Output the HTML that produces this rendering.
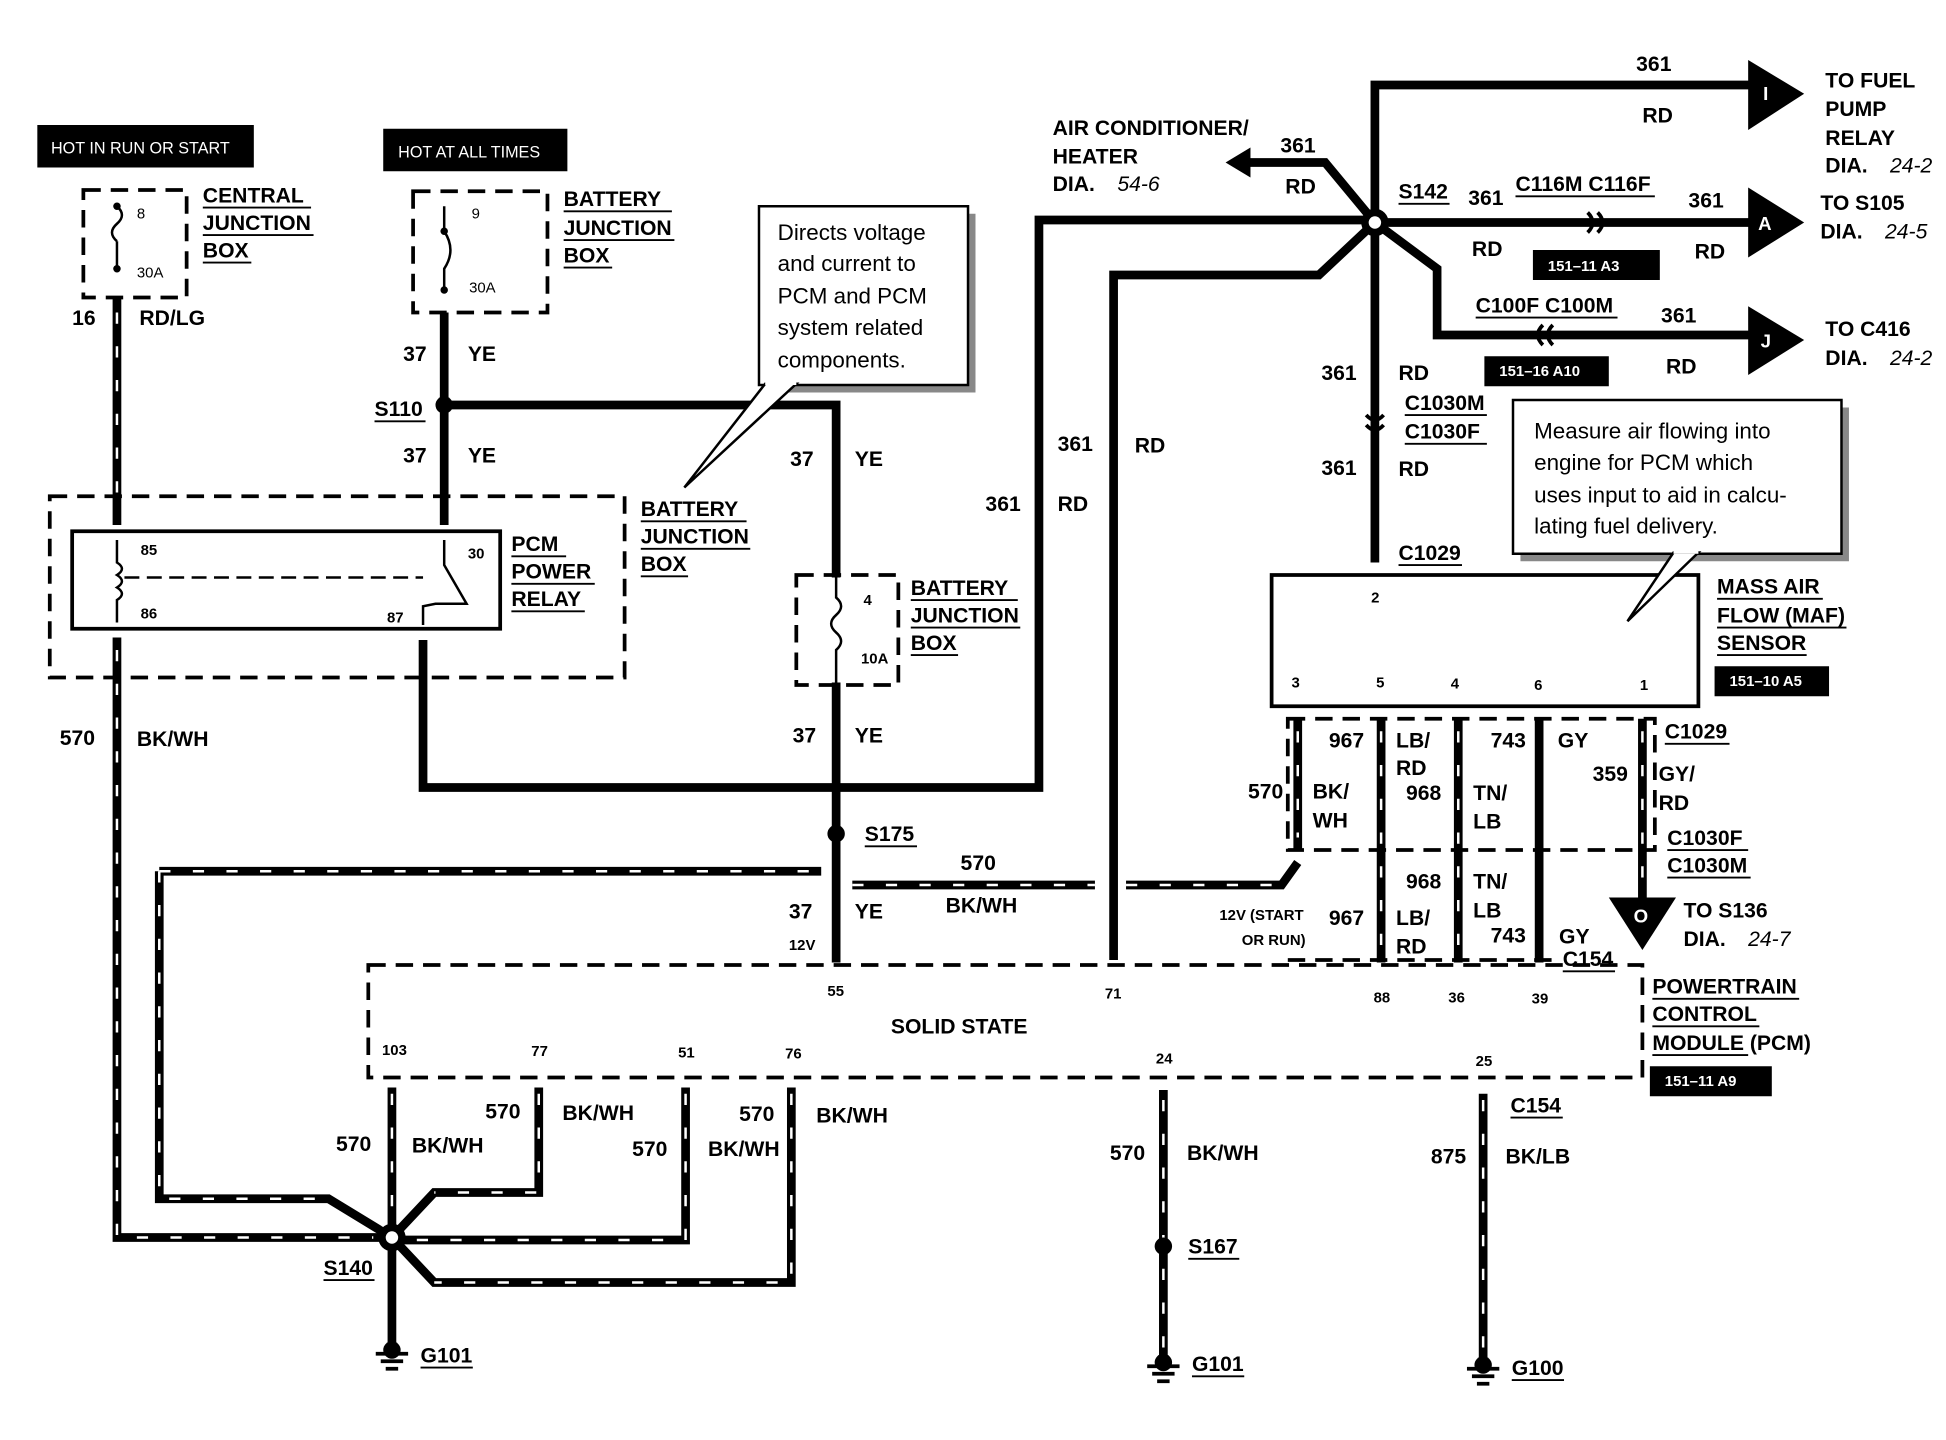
<!DOCTYPE html>
<html><head><meta charset="utf-8"><style>
html,body{margin:0;padding:0;background:#fff}
svg{display:block}
text{font-family:"Liberation Sans",sans-serif;font-weight:bold;fill:#000}
</style></head><body>
<svg width="1946" height="1440" viewBox="0 0 1564 1152" preserveAspectRatio="none" xmlns="http://www.w3.org/2000/svg">
<rect width="1564" height="1152" fill="#fff"/>
<g fill="none" stroke="#000" stroke-linejoin="miter">
<g stroke-width="7">
<polyline points="357,250 357,420"/>
<polyline points="357,324 672,324 672,462"/>
<line x1="672" y1="546" x2="672" y2="770"/>
<polyline points="340,512 340,630 835,630 835,176 1105,176"/>
<polyline points="895,768 895,220 1060,220 1105,178"/>
<polyline points="1105,178 1105,68 1410,68"/>
<polyline points="1105,178 1065,130 1000,130"/>
<polyline points="1105,178 1410,178"/>
<polyline points="1105,178 1155,215 1155,268 1410,268"/>
<polyline points="1105,178 1105,450"/>
<line x1="1172" y1="575" x2="1172" y2="770"/>
<line x1="1237" y1="575" x2="1237" y2="770"/>
<line x1="1110" y1="575" x2="1110" y2="770"/>
<line x1="315" y1="990" x2="315" y2="1075"/>
<line x1="935" y1="872" x2="935" y2="1085"/>
<line x1="1192" y1="875" x2="1192" y2="1088"/>
<line x1="1320" y1="575" x2="1320" y2="720"/>
<line x1="1043" y1="575" x2="1043" y2="680"/>
<polyline points="94,510 94,990 315,990"/>
<polyline points="128,697 128,959 264,959 315,990"/>
<polyline points="128,697 660,697"/>
<polyline points="685,708 880,708"/>
<polyline points="905,708 1030,708 1043,690"/>
<polyline points="315,870 315,990"/>
<polyline points="433,870 433,954 349,954 315,990"/>
<polyline points="551,870 551,992 320,992"/>
<polyline points="636,870 636,1026 349,1026 315,990"/>
<line x1="94" y1="238" x2="94" y2="420"/>
</g>
<g stroke="#fff" stroke-width="2" stroke-dasharray="9 18">
<line x1="94" y1="250" x2="94" y2="410"/>
<polyline points="94,520 94,990 300,990"/>
<polyline points="128,697 128,959 264,959"/>
<polyline points="128,697 660,697"/>
<polyline points="685,708 880,708"/>
<polyline points="905,708 1030,708"/>
<line x1="315" y1="875" x2="315" y2="975"/>
<polyline points="433,875 433,954 349,954"/>
<polyline points="551,875 551,992 335,992"/>
<polyline points="636,875 636,1026 349,1026"/>
<line x1="935" y1="880" x2="935" y2="1080"/>
<line x1="1192" y1="880" x2="1192" y2="1080"/>
<line x1="1043" y1="585" x2="1043" y2="670"/>
<line x1="1110" y1="585" x2="1110" y2="765"/>
<line x1="1172" y1="585" x2="1172" y2="765"/>
<line x1="1320" y1="585" x2="1320" y2="715"/>
</g>
<g stroke-width="3" stroke-dasharray="14 8">
<rect x="67" y="152" width="83" height="86"/>
<rect x="332" y="153" width="108" height="97"/>
<rect x="40" y="397" width="462" height="145"/>
<rect x="640" y="460" width="82" height="88"/>
<rect x="296" y="772" width="1024" height="90"/>
<rect x="1035" y="575" width="295" height="105"/>
<line x1="1035" y1="768" x2="1250" y2="768"/>
</g>
<rect x="58" y="425" width="344" height="78" stroke-width="3"/>
<rect x="1022" y="460" width="343" height="105" stroke-width="3"/>
<path d="M94,165 q8,7 0,14 q-8,7 0,14 M94,193 L94,215" stroke-width="2"/>
<path d="M357,165 L357,185 q10,15 0,30 L357,232" stroke-width="2"/>
<path d="M672,462 L672,478 q8,7 0,14 q-8,7 0,14 q8,7 0,14 L672,546" stroke-width="2"/>
<path d="M94,432 L94,450 q8,5 0,10 q8,5 0,10 q8,5 0,10 L94,498" stroke-width="2"/>
<line x1="100" y1="462" x2="340" y2="462" stroke-width="2" stroke-dasharray="12 6"/>
<path d="M357,432 L357,452 L375,483 L350,483 L340,485 L340,500" stroke-width="2"/>
<rect x="616" y="171" width="168" height="143" fill="#888" stroke="none"/>
<rect x="610" y="165" width="168" height="143" fill="#fff" stroke-width="2"/>
<rect x="1222" y="326" width="264" height="123" fill="#888" stroke="none"/>
<rect x="1216" y="320" width="264" height="123" fill="#fff" stroke-width="2"/>
</g>
<g fill="#000">
<polygon points="550,390 615,307 640,307" fill="#fff" stroke="#000" stroke-width="2"/>
<line x1="615" y1="306" x2="640" y2="306" stroke="#fff" stroke-width="4"/>
<polygon points="1308,497 1345,442 1365,442" fill="#fff" stroke="#000" stroke-width="2"/>
<line x1="1345" y1="441" x2="1365" y2="441" stroke="#fff" stroke-width="4"/>
<rect x="30" y="100" width="174" height="34"/>
<rect x="308" y="103" width="148" height="34"/>
<rect x="1232" y="200" width="102" height="24"/>
<rect x="1193" y="285" width="100" height="24"/>
<rect x="1378" y="533" width="92" height="24"/>
<rect x="1326" y="853" width="98" height="24"/>
<polygon points="1405,48 1450,75 1405,104"/>
<polygon points="1405,150 1450,178 1405,206"/>
<polygon points="1405,245 1450,272 1405,300"/>
<polygon points="985,130 1005,118 1005,142"/>
<polygon points="1293,718 1347,718 1320,760"/>
<circle cx="357" cy="324" r="7"/>
<circle cx="672" cy="667" r="7"/>
<circle cx="935" cy="997" r="7"/>
<circle cx="1105" cy="178" r="11"/><circle cx="1105" cy="178" r="5" fill="#fff"/>
<circle cx="315" cy="990" r="11"/><circle cx="315" cy="990" r="5" fill="#fff"/>
<circle cx="94" cy="215" r="3"/><circle cx="94" cy="165" r="3"/>
<circle cx="357" cy="232" r="3"/><circle cx="357" cy="185" r="3"/>
</g>
<g fill="none" stroke="#000" stroke-width="3">
<path d="M1276,170 q8,8 0,16 M1284,170 q8,8 0,16"/>
<path d="M1240,260 q-8,8 0,16 M1248,260 q-8,8 0,16"/>
<path d="M1098,332 q7,8 14,0 M1098,340 q7,8 14,0"/>
</g>
<g stroke="#000" stroke-width="3">
<line x1="302" y1="1083" x2="328" y2="1083"/><line x1="306" y1="1089" x2="324" y2="1089"/><line x1="310" y1="1095" x2="320" y2="1095"/>
<line x1="922" y1="1093" x2="948" y2="1093"/><line x1="926" y1="1099" x2="944" y2="1099"/><line x1="930" y1="1105" x2="940" y2="1105"/>
<line x1="1179" y1="1095" x2="1205" y2="1095"/><line x1="1183" y1="1101" x2="1201" y2="1101"/><line x1="1187" y1="1107" x2="1197" y2="1107"/>
</g>
<circle cx="315" cy="1080" r="7"/><circle cx="935" cy="1090" r="7"/><circle cx="1192" cy="1092" r="7"/>
<g font-size="13" style="font-weight:normal">
<text x="41" y="123" style="fill:#fff;font-weight:normal">HOT IN RUN OR START</text>
<text x="320" y="126" style="fill:#fff;font-weight:normal">HOT AT ALL TIMES</text>
</g>
<g font-size="17">
<text x="163" y="162">CENTRAL</text><text x="163" y="184">JUNCTION</text><text x="163" y="206">BOX</text>
<text x="453" y="165">BATTERY</text><text x="453" y="188">JUNCTION</text><text x="453" y="210">BOX</text>
<text x="58" y="260">16</text><text x="112" y="260">RD/LG</text>
<text x="324" y="289">37</text><text x="376" y="289">YE</text>
<text x="301" y="333">S110</text>
<text x="324" y="370">37</text><text x="376" y="370">YE</text>
<text x="635" y="373">37</text><text x="687" y="373">YE</text>
<text x="515" y="413">BATTERY</text><text x="515" y="435">JUNCTION</text><text x="515" y="457">BOX</text>
<text x="411" y="441">PCM</text><text x="411" y="463">POWER</text><text x="411" y="485">RELAY</text>
<text x="732" y="476">BATTERY</text><text x="732" y="498">JUNCTION</text><text x="732" y="520">BOX</text>
<text x="48" y="596">570</text><text x="110" y="597">BK/WH</text>
<text x="637" y="594">37</text><text x="687" y="594">YE</text>
<text x="695" y="673">S175</text>
<text x="772" y="696">570</text><text x="760" y="730">BK/WH</text>
<text x="634" y="735">37</text><text x="687" y="735">YE</text>
<text x="716" y="827">SOLID STATE</text>
<text x="846" y="108">AIR CONDITIONER/</text><text x="846" y="131">HEATER</text><text x="846" y="153">DIA.</text><text x="898" y="153" style="font-style:italic;font-weight:normal">54-6</text>
<text x="1029" y="122">361</text><text x="1033" y="155">RD</text>
<text x="1315" y="57">361</text><text x="1320" y="98">RD</text>
<text x="1467" y="70">TO FUEL</text><text x="1467" y="93">PUMP</text><text x="1467" y="116">RELAY</text><text x="1467" y="138">DIA.</text><text x="1519" y="138" style="font-style:italic;font-weight:normal">24-2</text>
<text x="1124" y="159">S142</text><text x="1180" y="164">361</text><text x="1218" y="153">C116M C116F</text><text x="1357" y="166">361</text>
<text x="1183" y="205">RD</text><text x="1362" y="207">RD</text>
<text x="1463" y="168">TO S105</text><text x="1463" y="191">DIA.</text><text x="1515" y="191" style="font-style:italic;font-weight:normal">24-5</text>
<text x="1186" y="250">C100F C100M</text><text x="1335" y="258">361</text><text x="1339" y="299">RD</text>
<text x="1467" y="269">TO C416</text><text x="1467" y="292">DIA.</text><text x="1519" y="292" style="font-style:italic;font-weight:normal">24-2</text>
<text x="1062" y="304">361</text><text x="1124" y="304">RD</text>
<text x="1129" y="328">C1030M</text><text x="1129" y="351">C1030F</text>
<text x="1062" y="380">361</text><text x="1124" y="381">RD</text>
<text x="850" y="361">361</text><text x="912" y="362">RD</text>
<text x="792" y="409">361</text><text x="850" y="409">RD</text>
<text x="1124" y="448">C1029</text>
<text x="1380" y="475">MASS AIR</text><text x="1380" y="498">FLOW (MAF)</text><text x="1380" y="520">SENSOR</text>
<text x="1338" y="591">C1029</text>
<text x="1068" y="598">967</text><text x="1122" y="598">LB/</text><text x="1122" y="620">RD</text><text x="1130" y="640">968</text>
<text x="1198" y="598">743</text><text x="1252" y="598">GY</text><text x="1280" y="625">359</text>
<text x="1333" y="625">GY/</text><text x="1333" y="648">RD</text>
<text x="1003" y="639">570</text><text x="1055" y="639">BK/</text><text x="1055" y="662">WH</text>
<text x="1184" y="640">TN/</text><text x="1184" y="663">LB</text>
<text x="1340" y="676">C1030F</text><text x="1340" y="698">C1030M</text>
<text x="1130" y="711">968</text><text x="1184" y="711">TN/</text><text x="1184" y="734">LB</text>
<text x="1068" y="740">967</text><text x="1122" y="740">LB/</text><text x="1122" y="763">RD</text>
<text x="1198" y="754">743</text><text x="1253" y="755">GY</text><text x="1256" y="773">C154</text>
<text x="1353" y="734">TO S136</text><text x="1353" y="757">DIA.</text><text x="1405" y="757" style="font-style:italic;font-weight:normal">24-7</text>
<text x="1328" y="795">POWERTRAIN</text><text x="1328" y="817">CONTROL</text><text x="1328" y="840">MODULE (PCM)</text>
<text x="390" y="895">570</text><text x="452" y="896">BK/WH</text>
<text x="594" y="897">570</text><text x="656" y="898">BK/WH</text>
<text x="270" y="921">570</text><text x="331" y="922">BK/WH</text>
<text x="508" y="925">570</text><text x="569" y="925">BK/WH</text>
<text x="892" y="928">570</text><text x="954" y="928">BK/WH</text>
<text x="1150" y="931">875</text><text x="1210" y="931">BK/LB</text>
<text x="1214" y="890">C154</text>
<text x="955" y="1003">S167</text>
<text x="260" y="1020">S140</text>
<text x="338" y="1090">G101</text><text x="958" y="1097">G101</text><text x="1215" y="1100">G100</text>
</g>
<g font-size="12" style="font-weight:normal">
<text x="110" y="175" style="font-weight:normal">8</text><text x="110" y="222" style="font-weight:normal">30A</text>
<text x="379" y="175" style="font-weight:normal">9</text><text x="377" y="234" style="font-weight:normal">30A</text>
<text x="113" y="444">85</text><text x="113" y="495">86</text><text x="376" y="447">30</text><text x="311" y="498">87</text>
<text x="694" y="484">4</text><text x="692" y="531">10A</text>
<text x="1102" y="482">2</text><text x="1038" y="550">3</text><text x="1106" y="550">5</text><text x="1166" y="551">4</text><text x="1233" y="552">6</text><text x="1318" y="552">1</text>
<text x="980" y="736">12V (START</text><text x="998" y="756">OR RUN)</text>
<text x="634" y="760">12V</text>
<text x="665" y="797">55</text><text x="888" y="799">71</text><text x="1104" y="802">88</text><text x="1164" y="802">36</text><text x="1231" y="803">39</text>
<text x="307" y="844">103</text><text x="427" y="845">77</text><text x="545" y="846">51</text><text x="631" y="847">76</text><text x="929" y="851">24</text><text x="1186" y="853">25</text>
<text x="1244" y="217" style="fill:#fff">151–11 A3</text>
<text x="1205" y="301" style="fill:#fff">151–16 A10</text>
<text x="1390" y="549" style="fill:#fff">151–10 A5</text>
<text x="1338" y="869" style="fill:#fff">151–11 A9</text>
</g>
<g font-size="15" style="font-weight:bold">
<text x="1417" y="80" style="fill:#fff">I</text><text x="1413" y="184" style="fill:#fff">A</text><text x="1415" y="278" style="fill:#fff">J</text>
<text x="1313" y="738" style="fill:#fff">O</text>
</g>
<g font-size="18" style="font-weight:normal">
<text x="625" y="192" style="font-weight:normal">Directs voltage</text>
<text x="625" y="217" style="font-weight:normal">and current to</text>
<text x="625" y="243" style="font-weight:normal">PCM and PCM</text>
<text x="625" y="268" style="font-weight:normal">system related</text>
<text x="625" y="294" style="font-weight:normal">components.</text>
<text x="1233" y="351" style="font-weight:normal">Measure air flowing into</text>
<text x="1233" y="376" style="font-weight:normal">engine for PCM which</text>
<text x="1233" y="402" style="font-weight:normal">uses input to aid in calcu-</text>
<text x="1233" y="427" style="font-weight:normal">lating fuel delivery.</text>
</g>
<g stroke="#000" stroke-width="1.5">
<line x1="163" y1="166" x2="250" y2="166"/><line x1="163" y1="188" x2="252" y2="188"/><line x1="163" y1="210" x2="202" y2="210"/>
<line x1="453" y1="169" x2="540" y2="169"/><line x1="453" y1="192" x2="542" y2="192"/><line x1="453" y1="214" x2="492" y2="214"/>
<line x1="515" y1="417" x2="600" y2="417"/><line x1="515" y1="439" x2="603" y2="439"/><line x1="515" y1="461" x2="553" y2="461"/>
<line x1="411" y1="445" x2="455" y2="445"/><line x1="411" y1="467" x2="478" y2="467"/><line x1="411" y1="489" x2="470" y2="489"/>
<line x1="732" y1="480" x2="818" y2="480"/><line x1="732" y1="502" x2="820" y2="502"/><line x1="732" y1="524" x2="770" y2="524"/>
<line x1="301" y1="337" x2="342" y2="337"/><line x1="695" y1="677" x2="737" y2="677"/>
<line x1="1124" y1="163" x2="1165" y2="163"/><line x1="1218" y1="157" x2="1330" y2="157"/><line x1="1186" y1="254" x2="1300" y2="254"/>
<line x1="1129" y1="332" x2="1195" y2="332"/><line x1="1129" y1="355" x2="1195" y2="355"/>
<line x1="1124" y1="452" x2="1175" y2="452"/><line x1="1338" y1="595" x2="1390" y2="595"/>
<line x1="1380" y1="479" x2="1465" y2="479"/><line x1="1380" y1="502" x2="1484" y2="502"/><line x1="1380" y1="524" x2="1452" y2="524"/>
<line x1="1340" y1="680" x2="1405" y2="680"/><line x1="1340" y1="702" x2="1407" y2="702"/><line x1="1256" y1="777" x2="1298" y2="777"/>
<line x1="1328" y1="799" x2="1446" y2="799"/><line x1="1328" y1="821" x2="1414" y2="821"/><line x1="1328" y1="844" x2="1405" y2="844"/>
<line x1="1214" y1="894" x2="1256" y2="894"/><line x1="955" y1="1007" x2="996" y2="1007"/><line x1="260" y1="1024" x2="301" y2="1024"/>
<line x1="338" y1="1094" x2="380" y2="1094"/><line x1="958" y1="1101" x2="1000" y2="1101"/><line x1="1215" y1="1104" x2="1257" y2="1104"/>
</g>
</svg>
</body></html>
